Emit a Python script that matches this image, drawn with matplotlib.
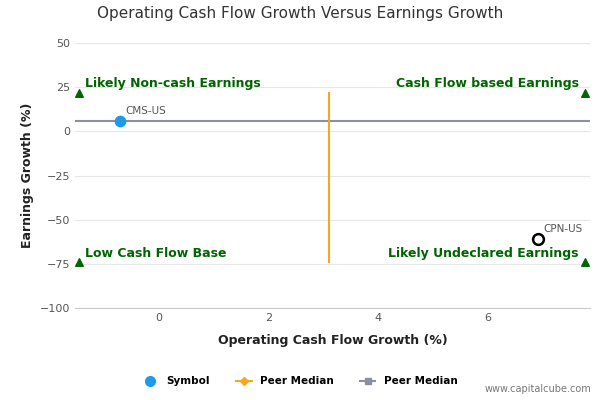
import matplotlib
matplotlib.use("Agg")
import matplotlib.pyplot as plt
from matplotlib.lines import Line2D

symbols = ["CMS-US", "CPN-US"]
cash_growth = [-0.7, 6.9]
earn_growth = [6, -61]
peer_median_x = 3.1
peer_median_y = 6
orange_span = [-74, 22]
xlim = [-1.52, 7.85]
ylim = [-100, 50]
yticks = [-100, -75, -50, -25, 0, 25, 50]
xticks = [0, 2, 4, 6]
corner_labels = ["Likely Non-cash Earnings", "Cash Flow based Earnings",
                 "Low Cash Flow Base", "Likely Undeclared Earnings"]
tri_x = [-1.45, 7.77]
tri_y = [22, -74]

fig = plt.figure(figsize=(6, 4), dpi=100)
ax = fig.add_axes([0.125, 0.23, 0.858, 0.662])
ax.set_xlim(*xlim); ax.set_ylim(*ylim)
ax.set_yticks(yticks); ax.set_xticks(xticks)
ax.tick_params(labelsize=8, colors="#555555", length=0)
for s in ["top", "right", "left"]:
    ax.spines[s].set_visible(False)
ax.spines["bottom"].set_color("#cccccc")
ax.grid(axis="y", color="#e6e6e6", lw=0.8)
ax.set_axisbelow(True)

ax.axhline(peer_median_y, color="#8c8fa0", lw=1.5)
ax.plot([peer_median_x, peer_median_x], orange_span, color="#f5a623", lw=1.5)

ax.scatter([cash_growth[0]], [earn_growth[0]], s=55, color="#1e9be8", zorder=5)
ax.scatter([cash_growth[1]], [earn_growth[1]], s=60, facecolor="white", edgecolor="black", lw=1.8, zorder=5)
for x, y, n in zip(cash_growth, earn_growth, symbols):
    ax.annotate(n, (x, y), xytext=(4, 5), textcoords="offset points", fontsize=7.5, color="#555555")

g = "#006400"
for x in tri_x:
    for y in tri_y:
        ax.scatter([x], [y], marker="^", s=30, color=g, zorder=5)
fs = 9
ax.text(tri_x[0] + 0.12, 27, corner_labels[0], color=g, fontsize=fs, fontweight="bold", va="center")
ax.text(tri_x[1] - 0.12, 27, corner_labels[1], color=g, fontsize=fs, fontweight="bold", va="center", ha="right")
ax.text(tri_x[0] + 0.12, -69, corner_labels[2], color=g, fontsize=fs, fontweight="bold", va="center")
ax.text(tri_x[1] - 0.12, -69, corner_labels[3], color=g, fontsize=fs, fontweight="bold", va="center", ha="right")

ax.set_xlabel("Operating Cash Flow Growth (%)", fontsize=9, fontweight="bold", color="#222222", labelpad=8)
ax.set_ylabel("Earnings Growth (%)", fontsize=9, fontweight="bold", color="#222222")
fig.text(0.5, 0.955, "Operating Cash Flow Growth Versus Earnings Growth", ha="center", fontsize=11, color="#333333")

handles = [
    Line2D([], [], marker="o", color="#1e9be8", ls="", markersize=7),
    Line2D([], [], marker="D", color="#f5a623", markersize=4, lw=1.5),
    Line2D([], [], marker="s", color="#8c8fa0", markersize=5, lw=1.5),
]
fig.legend(handles, ["Symbol", "Peer Median", "Peer Median"], loc="center", bbox_to_anchor=(0.5, 0.047),
           ncol=3, frameon=False, prop={"size": 7.5, "weight": "bold"}, handlelength=1.5, columnspacing=2.5)
fig.text(0.985, 0.02, "www.capitalcube.com", ha="right", fontsize=7, color="#777777")
fig.savefig("out.png")
